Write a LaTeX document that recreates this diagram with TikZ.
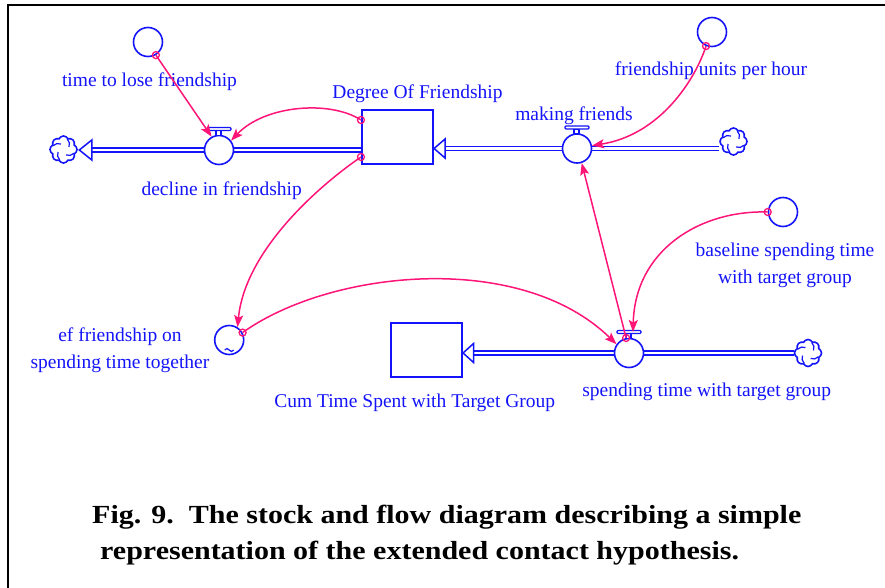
\documentclass[tikz,border=0pt]{standalone}
\usepackage{fontspec}
\setmainfont{Liberation Serif}
\newfontfamily\lblfont{Liberation Serif}
\newfontfamily\capfont{Liberation Serif}
\usetikzlibrary{arrows.meta,calc,shapes.symbols}
\definecolor{sdblue}{RGB}{20,20,250}
\definecolor{sdpink}{RGB}{255,20,120}
\pgfdeclarelayer{bg}
\pgfsetlayers{bg,main}
\tikzset{
 lbl/.style={font=\lblfont\fontsize{19.5}{27}\selectfont, text=sdblue, inner sep=0pt, anchor=base},
 stock/.style={draw=sdblue, line width=1.6pt, fill=white, minimum width=71.5pt, minimum height=54.5pt, inner sep=0pt},
 valve/.style={circle, draw=sdblue, line width=1.6pt, fill=white, minimum size=29pt, inner sep=0pt},
 aux/.style={circle, draw=sdblue, line width=1.6pt, fill=white, minimum size=29pt, inner sep=0pt},
 sink/.style={cloud, cloud puffs=8, cloud puff arc=130, aspect=1, draw=sdblue, line width=1.6pt,
   minimum width=27pt, minimum height=27pt, inner sep=0pt, fill=white,
   path picture={
     \foreach \a in {20,110,200,290}
       \draw[sdblue,line width=1.2pt] ($(path picture bounding box.center)+(\a:11)$) to[bend left=35] ($(path picture bounding box.center)+(\a+45:6)$);
   }},
 pipe/.style={draw=sdblue, line width=1.4pt, double=white, double distance=2.6pt},
 pipehead/.style={draw=sdblue, line width=1.5pt, fill=white, line join=miter},
 valvebar/.style={draw=sdblue, line width=1.3pt, fill=white},
 conn/.style={draw=sdpink, line width=1.5pt, -{Stealth[length=12pt,width=9pt,inset=2.5pt]}},
 tailc/.style={draw=sdpink, line width=1.3pt},
}
\begin{document}
\begin{tikzpicture}[x=1pt,y=-1pt]
\useasboundingbox (0,0) rectangle (885,588);
% frame
\draw[line width=2.2pt] (7.7,588) -- (7.7,5) -- (885,5);

% stocks
\node[stock] (F) at (397.5,137) {};
\node[stock] (C) at (426.5,350) {};
% valves
\node[valve] (D) at (219,150) {};
\node[valve] (M) at (577,148.5) {};
\node[valve] (S) at (629,353) {};
% auxiliaries
\node[aux] (T) at (148,42) {};
\node[aux] (U) at (712,32) {};
\node[aux] (B) at (783,212) {};
\node[aux] (E) at (229.2,340) {};
\draw[sdblue,line width=1.2pt] ($(E)+(-4.5,10)$) sin ($(E)+(-2.25,8.5)$) cos ($(E)+(0,10)$) sin ($(E)+(2.25,11.5)$) cos ($(E)+(4.5,10)$);
% clouds
\node[sink] (CL) at (63.5,149.5) {};
\node[sink] (CR1) at (733.5,141.5) {};
\node[sink] (CR2) at (808,353) {};

% pipes
\begin{pgfonlayer}{bg}
\draw[pipe] (F.west |- D) -- ($(CL.east |- D)+(14,0)$);
\draw[pipe] (CR1.west |- M) -- ($(F.east |- M)+(11,0)$);
\draw[pipe] (CR2.west |- S) -- ($(C.east |- S)+(10.5,0)$);
\end{pgfonlayer}
\draw[pipehead] ($(CL.east |- D)+(1.5,0)$) -- ++(12.5,-10) -- ++(0,20) -- cycle;
\draw[pipehead] (F.east |- M) -- ++(11,-9.5) -- ++(0,19) -- cycle;
\draw[pipehead] (C.east |- S) -- ++(10.5,-9.5) -- ++(0,19) -- cycle;

% valve bars
\foreach \v in {D,M,S}{
  \draw[valvebar] ($(\v)+(-3,-19.5)$) rectangle ($(\v)+(2,-14.8)$);
  \draw[valvebar,rounded corners=1pt] ($(\v)+(-12,-22.5)$) rectangle ($(\v)+(12,-19.5)$);
}

% labels
\node[lbl] (lT) at (149.5,86.7) {time to lose friendship};
\node[lbl] (lU) at (711,76) {friendship units per hour};
\node[lbl] (lF) at (417.5,99) {Degree Of Friendship};
\node[lbl] (lM) at (574,120.7) {making friends};
\node[lbl] (lD) at (221.7,195) {decline in friendship};
\node[lbl] (lB) at (785,256.7) {\begin{tabular}[t]{@{}c@{}}baseline spending time\\with target group\end{tabular}};
\node[lbl] (lS) at (706.7,396.7) {spending time with target group};
\node[lbl] (lC) at (414.7,407.3) {Cum Time Spent with Target Group};
\node[lbl] (lE) at (120,341.7) {\begin{tabular}[t]{@{}c@{}}ef friendship on\\spending time together\end{tabular}};

% connectors
\draw[conn] (T.-59) -- (D.119);
\draw[tailc] (T.-59) circle[radius=3.5];
\draw[conn] ($(F.west)+(0,-17)$) .. controls (330,100) and (265,105) .. (D.38);
\draw[tailc] ($(F.west)+(0,-17)$) circle[radius=3.5];
\draw[conn] ($(F.west)+(0,20)$) .. controls (320,185) and (245,250) .. (E.57);
\draw[tailc] ($(F.west)+(0,20)$) circle[radius=3.5];
\draw[conn] (E.29) .. controls (330,270) and (520,250) .. (S.145);
\draw[tailc] (E.29) circle[radius=3.5];
\draw[conn] (S.101) -- (M.-72);
\draw[tailc] (S.101) circle[radius=3.5];
\draw[conn] (B.180) .. controls (700,210) and (635,250) .. ($(S)+(4,-21)$);
\draw[tailc] (B.180) circle[radius=3.5];
\draw[conn] (U.-113) .. controls (695,80) and (660,135) .. (M.11);
\draw[tailc] (U.-113) circle[radius=3.5];

% caption
\node[anchor=north west, inner sep=0pt] (cap) at (92,498) {\capfont\bfseries\fontsize{30}{41.5}\selectfont\scalebox{1}[0.87]{\begin{tabular}{@{}l@{}}Fig. 9.\ \ The stock and flow diagram describing a simple\\\hspace{8pt}representation of the extended contact hypothesis.\end{tabular}}};
\end{tikzpicture}
\end{document}
